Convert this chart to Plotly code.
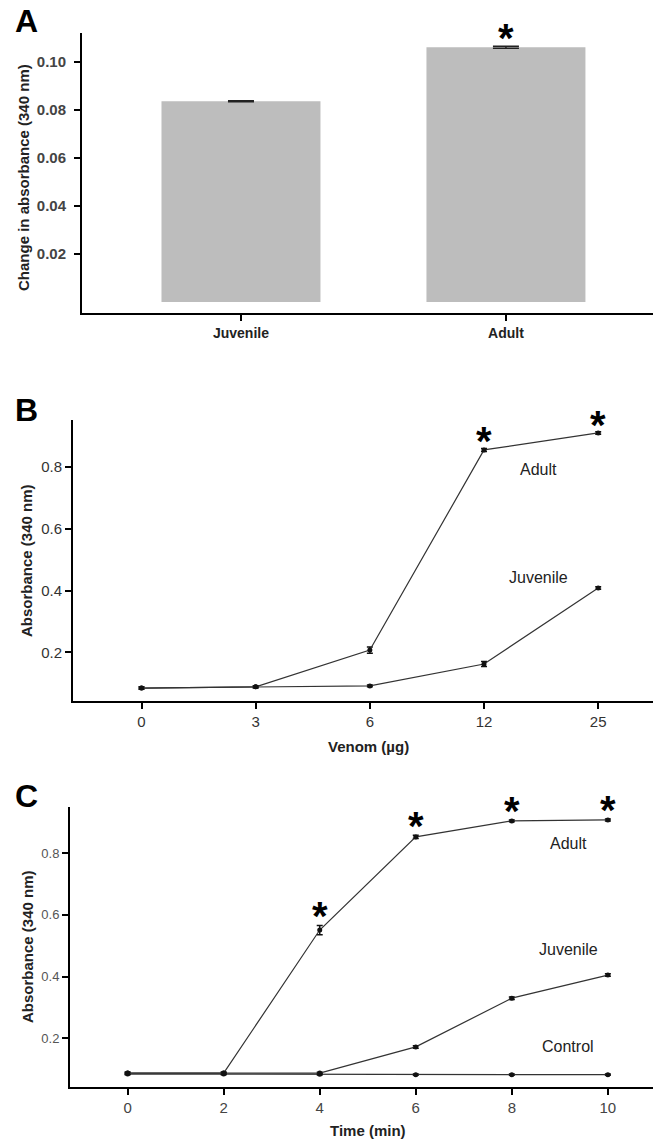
import plotly.graph_objects as go

# ---------------- Data ----------------
# Panel A
groups_A = ["Juvenile", "Adult"]
values_A = [0.0836, 0.1061]
errors_A = [0.0002, 0.0004]
signif_A = [False, True]

# Panel B
venom_labels = ["0", "3", "6", "12", "25"]
adult_B = [0.084, 0.088, 0.207, 0.856, 0.911]
adult_B_err = [0.003, 0.003, 0.010, 0.005, 0.004]
juvenile_B = [0.084, 0.088, 0.091, 0.162, 0.408]
juvenile_B_err = [0.003, 0.003, 0.003, 0.008, 0.004]
signif_B = [False, False, False, True, True]

# Panel C
time_min = [0, 2, 4, 6, 8, 10]
adult_C = [0.087, 0.087, 0.551, 0.853, 0.905, 0.908]
adult_C_err = [0.003, 0.003, 0.015, 0.005, 0.003, 0.003]
juvenile_C = [0.087, 0.087, 0.087, 0.172, 0.330, 0.405]
juvenile_C_err = [0.003, 0.003, 0.003, 0.004, 0.004, 0.004]
control_C = [0.084, 0.084, 0.083, 0.082, 0.082, 0.082]
control_C_err = [0.002, 0.002, 0.002, 0.002, 0.002, 0.002]
signif_C = [False, False, True, True, True, True]

FONT = "Arial, 'Liberation Sans', sans-serif"
LINE_C = "#333333"
W, H = 653, 1139

fig = go.Figure()

# Panel A bars
fig.add_trace(go.Bar(
    x=list(range(len(groups_A))), y=values_A, width=0.6,
    marker=dict(color="#bdbdbd", line=dict(width=0)),
    error_y=dict(type="data", array=errors_A, color="#222", thickness=1.5, width=13),
    xaxis="x", yaxis="y", showlegend=False,
))

def line_trace(x, y, err, xa, ya):
    return go.Scatter(
        x=x, y=y, mode="lines+markers",
        line=dict(color=LINE_C, width=1.2),
        marker=dict(color="#111", size=5, symbol="circle"),
        error_y=dict(type="data", array=err, color="#111", thickness=1.5, width=3),
        xaxis=xa, yaxis=ya, showlegend=False,
    )

idx_B = list(range(len(venom_labels)))
fig.add_trace(line_trace(idx_B, adult_B, adult_B_err, "x2", "y2"))
fig.add_trace(line_trace(idx_B, juvenile_B, juvenile_B_err, "x2", "y2"))

fig.add_trace(line_trace(time_min, control_C, control_C_err, "x3", "y3"))
fig.add_trace(line_trace(time_min, juvenile_C, juvenile_C_err, "x3", "y3"))
fig.add_trace(line_trace(time_min, adult_C, adult_C_err, "x3", "y3"))

axis_common = dict(
    showline=True, linecolor="black", linewidth=2,
    ticks="outside", ticklen=6, tickwidth=2, tickcolor="black",
    showgrid=False, zeroline=False, mirror=False,
)

fig.update_layout(
    width=W, height=H, autosize=False,
    margin=dict(l=0, r=0, t=0, b=0),
    plot_bgcolor="white", paper_bgcolor="white",
    font=dict(family=FONT, color="#333"),
    xaxis=dict(axis_common, domain=[82 / W, 1], range=[-0.6, 1.555],
               tickvals=list(range(len(groups_A))), ticktext=groups_A,
               tickfont=dict(size=14, weight="bold", color="#222"),
               anchor="y"),
    yaxis=dict(axis_common, domain=[1 - 313 / H, 1 - 33 / H], range=[-0.0046, 0.112],
               tickvals=[0.02, 0.04, 0.06, 0.08, 0.10],
               ticktext=["0.02", "0.04", "0.06", "0.08", "0.10"],
               tickfont=dict(size=15, weight="bold", color="#444"),
               ticklabelstandoff=5, anchor="x"),
    xaxis2=dict(axis_common, domain=[73 / W, 1], range=[-0.6, 4.48],
                tickvals=idx_B, ticktext=venom_labels,
                tickfont=dict(size=15, color="#333"), anchor="y2"),
    yaxis2=dict(axis_common, domain=[1 - 701 / H, 1 - 420 / H], range=[0.042, 0.953],
                tickvals=[0.2, 0.4, 0.6, 0.8], ticktext=["0.2", "0.4", "0.6", "0.8"],
                tickfont=dict(size=15, color="#333"), anchor="x2"),
    xaxis3=dict(axis_common, domain=[70 / W, 1], range=[-1.2, 10.94],
                tickvals=time_min, ticktext=[str(t) for t in time_min],
                tickfont=dict(size=15, color="#444"), anchor="y3"),
    yaxis3=dict(axis_common, domain=[1 - 1087 / H, 1 - 807 / H], range=[0.042, 0.95],
                tickvals=[0.2, 0.4, 0.6, 0.8], ticktext=["0.2", "0.4", "0.6", "0.8"],
                tickfont=dict(size=13, color="#555"), anchor="x3"),
)

ann = []
def paper_text(text, xpx, ypx, size, angle=0, color="#222"):
    return dict(text=text, x=xpx / W, y=1 - ypx / H, xref="paper", yref="paper",
                xanchor="center", yanchor="middle", textangle=angle, showarrow=False,
                font=dict(size=size, color=color, family=FONT))

# Panel letters
for letter, ypx in [("A", 21), ("B", 410), ("C", 796)]:
    ann.append(paper_text(f"<b>{letter}</b>", 26, ypx, 32, color="black"))
# Axis titles
ann.append(paper_text("<b>Change in absorbance (340 nm)</b>", 23, 178, 15, -90))
ann.append(paper_text("<b>Absorbance (340 nm)</b>", 26, 561, 15, -90))
ann.append(paper_text("<b>Absorbance (340 nm)</b>", 27, 947, 15, -90))
ann.append(paper_text("<b>Venom (µg)</b>", 368, 746, 15))
ann.append(paper_text("<b>Time (min)</b>", 368, 1130, 15))

# Series labels
for txt, xv, yv in [("Adult", 3.48, 0.791), ("Juvenile", 3.48, 0.441)]:
    ann.append(dict(text=txt, x=xv, y=yv, xref="x2", yref="y2", showarrow=False,
                    xanchor="center", yanchor="middle",
                    font=dict(size=16, color="#222", family=FONT)))
for txt, xv, yv in [("Adult", 9.17, 0.833), ("Juvenile", 9.17, 0.489), ("Control", 9.17, 0.172)]:
    ann.append(dict(text=txt, x=xv, y=yv, xref="x3", yref="y3", showarrow=False,
                    xanchor="center", yanchor="middle",
                    font=dict(size=16, color="#222", family=FONT)))

# Significance asterisks
def stars(xs, ys, errs, sig, xr, yr, shift):
    out = []
    for xv, yv, ev, s in zip(xs, ys, errs, sig):
        if s:
            out.append(dict(text="<b>*</b>", x=xv, y=yv + ev, xref=xr, yref=yr,
                            showarrow=False, xanchor="center", yanchor="middle", yshift=shift,
                            font=dict(size=40, color="black", family=FONT)))
    return out

ann += stars(list(range(len(groups_A))), values_A, errors_A, signif_A, "x", "y", 8)
ann += stars(idx_B, adult_B, adult_B_err, signif_B, "x2", "y2", 7)
ann += stars(time_min, adult_C, adult_C_err, signif_C, "x3", "y3", 9)

fig.update_layout(annotations=ann)

fig.write_html("out.html")
